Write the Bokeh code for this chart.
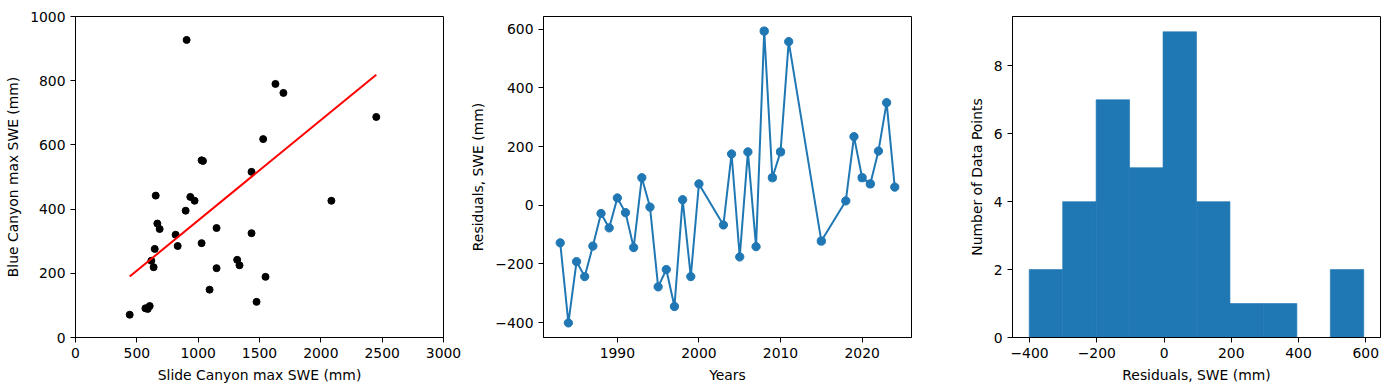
import numpy as np
from bokeh.plotting import figure
from bokeh.layouts import row
from bokeh.models import FixedTicker, Range1d, CustomJSTickFormatter
from bokeh.embed import file_html
from bokeh.resources import INLINE

# ---------------- data ----------------
years = [1983, 1984, 1985, 1986, 1987, 1988, 1989, 1990, 1991, 1992, 1993, 1994,
         1995, 1996, 1997, 1998, 1999, 2000, 2003, 2004, 2005, 2006, 2007, 2008,
         2009, 2010, 2011, 2015, 2018, 2019, 2020, 2021, 2022, 2023, 2024]
slide_swe = [2452, 1476, 1150, 1337, 570, 833, 1028, 646, 637, 605, 1530, 618,
             2086, 1318, 1549, 1435, 1093, 971, 1150, 1039, 1435, 1695, 589, 906,
             936, 1028, 2200, 442, 816, 1630, 667, 686, 654, 2350, 898]
# 2011 and 2023 lie above the 1000 mm axis limit (clipped in the chart)
blue_swe = [687, 111, 216, 225, 91, 285, 294, 276, 219, 98, 618, 239,
            426, 242, 189, 516, 149, 426, 341, 550, 325, 762, 89, 927,
            438, 552, 1298, 71, 320, 790, 355, 338, 442, 1137, 395]
residuals = [-128, -401, -192, -243, -139, -28, -77, 25, -25, -144, 94, -6,
             -278, -219, -345, 19, -243, 73, -67, 175, -176, 182, -141, 594,
             94, 182, 558, -122, 15, 234, 94, 73, 185, 350, 62]
fit_slope = 0.3127
fit_intercept = 51.9

x1_ticks = [0, 500, 1000, 1500, 2000, 2500, 3000]
y1_ticks = [0, 200, 400, 600, 800, 1000]
x2_ticks = [1990, 2000, 2010, 2020]
y2_ticks = [-400, -200, 0, 200, 400, 600]
x3_ticks = [-400, -200, 0, 200, 400, 600]
y3_ticks = [0, 2, 4, 6, 8]

BLUE = "#1f77b4"
FONT = "DejaVu Sans"
FS = "13.9px"

minus_fmt = CustomJSTickFormatter(code="return tick < 0 ? '\u2212' + Math.abs(tick) : String(tick);")


def style(p):
    p.outline_line_color = "black"
    p.outline_line_width = 1
    p.xgrid.visible = False
    p.ygrid.visible = False
    p.background_fill_color = "white"
    p.border_fill_color = "white"
    for ax in (p.xaxis[0], p.yaxis[0]):
        ax.axis_line_color = "black"
        ax.axis_line_width = 1
        ax.major_tick_out = 5
        ax.major_tick_in = 0
        ax.minor_tick_out = 0
        ax.minor_tick_in = 0
        ax.major_tick_line_color = "black"
        ax.major_label_standoff = 5
        ax.axis_label_standoff = 6
        ax.major_label_text_font = FONT
        ax.major_label_text_font_size = FS
        ax.major_label_text_color = "black"
        ax.axis_label_text_font = FONT
        ax.axis_label_text_font_size = FS
        ax.axis_label_text_font_style = "normal"
        ax.axis_label_text_color = "black"


def pad(lo, hi, m=0.05):
    d = (hi - lo) * m
    return lo - d, hi + d


common = dict(frame_width=368, frame_height=321, min_border_top=16,
              min_border_bottom=50, output_backend="svg", toolbar_location=None)

# ---------------- panel 1: scatter + fit ----------------
p1 = figure(x_range=Range1d(0, 3000), y_range=Range1d(0, 1000),
            min_border_left=75, min_border_right=22, **common)
p1.scatter(slide_swe, blue_swe, size=7, color="black")
xl = np.array([min(slide_swe), max(slide_swe)], dtype=float)
p1.line(xl, fit_slope * xl + fit_intercept, line_color="red", line_width=2)
p1.xaxis.ticker = FixedTicker(ticks=x1_ticks)
p1.yaxis.ticker = FixedTicker(ticks=y1_ticks)
p1.xaxis.axis_label = "Slide Canyon max SWE (mm)"
p1.yaxis.axis_label = "Blue Canyon max SWE (mm)"
style(p1)

# ---------------- panel 2: residuals over time ----------------
x2lo, x2hi = pad(min(years), max(years))
y2lo, y2hi = pad(min(residuals), max(residuals))
p2 = figure(x_range=Range1d(x2lo, x2hi), y_range=Range1d(y2lo, y2hi),
            min_border_left=78, min_border_right=23, **common)
p2.line(years, residuals, line_color=BLUE, line_width=2)
p2.scatter(years, residuals, size=8.3, color=BLUE)
p2.xaxis.ticker = FixedTicker(ticks=x2_ticks)
p2.yaxis.ticker = FixedTicker(ticks=y2_ticks)
p2.yaxis.formatter = minus_fmt
p2.xaxis.axis_label = "Years"
p2.yaxis.axis_label = "Residuals, SWE (mm)"
style(p2)

# ---------------- panel 3: histogram ----------------
counts, edges = np.histogram(residuals, bins=10)
x3lo, x3hi = pad(edges[0], edges[-1])
p3 = figure(x_range=Range1d(x3lo, x3hi), y_range=Range1d(0, counts.max() * 1.05),
            min_border_left=78, min_border_right=1, **common)
p3.quad(left=edges[:-1], right=edges[1:], bottom=0, top=counts,
        fill_color=BLUE, line_color=BLUE, line_width=0.6)
p3.xaxis.ticker = FixedTicker(ticks=x3_ticks)
p3.yaxis.ticker = FixedTicker(ticks=y3_ticks)
p3.xaxis.formatter = minus_fmt
p3.xaxis.axis_label = "Residuals, SWE (mm)"
p3.yaxis.axis_label = "Number of Data Points"
style(p3)

layout = row(p1, p2, p3, spacing=0)
open("out.html", "w").write(file_html(layout, INLINE))
